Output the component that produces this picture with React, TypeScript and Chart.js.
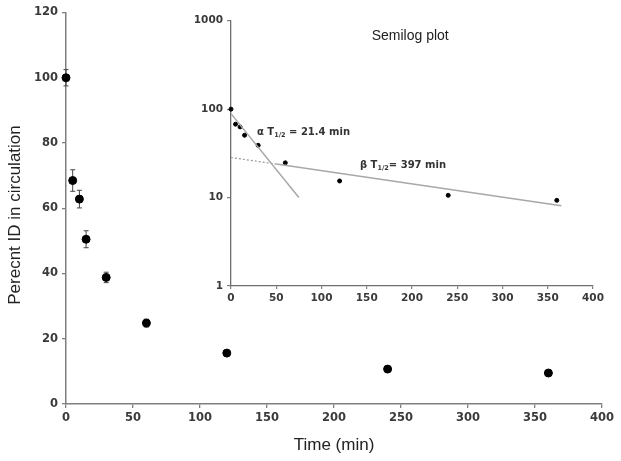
import React, { useEffect, useRef } from "react";
import { Chart, registerables } from "chart.js";
Chart.register(...registerables);

// ---- Main plot data ----
const timeMin = [0, 5, 10, 15, 30, 60, 120, 240, 360];
const percentID = [100, 68.5, 62.8, 50.5, 38.8, 24.8, 15.6, 10.7, 9.5];
const percentErr = [2.5, 3.3, 2.7, 2.6, 1.6, 1.2, 0.6, 0.5, 0.5];

// ---- Inset (semilog) data ----
const semilogValues = [100, 67.6, 63, 50.7, 39, 24.7, 15.4, 10.6, 9.3];
const alphaLineX = [0, 75];
const alphaLineY = [89, 10];
const betaDashX = [0, 50];
const betaDashY = [28.4, 23.9];
const betaSolidX = [50, 365];
const betaSolidY = [23.9, 8.1];
const insetYTicks = [1, 10, 100, 1000];

const yTitle = "Perecnt ID in circulation";
const xTitle = "Time (min)";
const insetTitle = "Semilog plot";
const alphaLabel = ["α T", "1/2", " = 21.4 min"];
const betaLabel = ["β T", "1/2", "= 397 min"];
const alphaLabelPos = [28.7, 54.5];
const betaLabelPos = [142.5, 23];
const insetTitlePos = [198, 666];

const toPts = (xs: number[], ys: number[]) => xs.map((x, i) => ({ x, y: ys[i] }));

const AXIS = "#7f7f7f";
const TICKC = "#3a3a3a";

export default function App() {
  const mainRef = useRef<HTMLCanvasElement>(null);
  const insetRef = useRef<HTMLCanvasElement>(null);

  useEffect(() => {
    const errorBars = {
      id: "errbars",
      beforeDatasetsDraw(chart: any) {
        const { ctx, scales } = chart;
        const x = scales.x, y = scales.y;
        ctx.save();
        ctx.strokeStyle = "#444";
        ctx.lineWidth = 1;
        timeMin.forEach((t, i) => {
          const px = x.getPixelForValue(t);
          const top = y.getPixelForValue(percentID[i] + percentErr[i]);
          const bot = y.getPixelForValue(percentID[i] - percentErr[i]);
          ctx.beginPath();
          ctx.moveTo(px, top); ctx.lineTo(px, bot);
          ctx.moveTo(px - 2.5, top); ctx.lineTo(px + 2.5, top);
          ctx.moveTo(px - 2.5, bot); ctx.lineTo(px + 2.5, bot);
          ctx.stroke();
        });
        ctx.restore();
      },
      afterDraw(chart: any) {
        const { ctx } = chart;
        ctx.save();
        ctx.translate(15, 215);
        ctx.rotate(-Math.PI / 2);
        ctx.font = "17px 'Liberation Sans', Arial, sans-serif";
        ctx.fillStyle = "#222";
        ctx.textAlign = "center";
        ctx.textBaseline = "middle";
        ctx.fillText(yTitle, 0, 0);
        ctx.restore();
      },
    };

    const main = new Chart(mainRef.current!, {
      type: "scatter",
      data: {
        datasets: [
          {
            data: toPts(timeMin, percentID),
            backgroundColor: "#000",
            borderColor: "#000",
            pointRadius: 4,
            clip: false as any,
          },
        ],
      },
      options: {
        animation: false,
        responsive: false,
        layout: { padding: { top: 12.5, right: 19, left: 0, bottom: 0 } },
        plugins: { legend: { display: false }, tooltip: { enabled: false } },
        scales: {
          x: {
            type: "linear",
            min: 0,
            max: 400,
            afterFit: (s: any) => { s.height = 57; },
            ticks: { stepSize: 50, padding: 3, color: TICKC, font: { family: "'DejaVu Sans'", weight: "bold", size: 11.5 } },
            grid: { drawOnChartArea: false, drawTicks: true, tickLength: 4, color: AXIS, lineWidth: 1.3 },
            border: { color: AXIS, width: 1.5 },
            title: { display: true, text: xTitle, color: "#222", padding: { top: 0, bottom: 5 }, font: { family: "'Liberation Sans'", size: 17 } },
          },
          y: {
            type: "linear",
            min: 0,
            max: 120,
            afterFit: (s: any) => { s.width = 66; },
            ticks: { stepSize: 20, padding: 4, color: TICKC, font: { family: "'DejaVu Sans'", weight: "bold", size: 11.5 } },
            grid: { drawOnChartArea: false, drawTicks: true, tickLength: 4, color: AXIS, lineWidth: 1.3 },
            border: { color: AXIS, width: 1.5 },
          },
        },
      },
      plugins: [errorBars],
    });

    const drawSub = (ctx: any, parts: string[], x: number, y: number) => {
      ctx.font = "bold 10px 'DejaVu Sans', sans-serif";
      ctx.fillText(parts[0], x, y);
      let cx = x + ctx.measureText(parts[0]).width;
      ctx.font = "bold 6.5px 'DejaVu Sans', sans-serif";
      ctx.fillText(parts[1], cx, y + 3);
      cx += ctx.measureText(parts[1]).width;
      ctx.font = "bold 10px 'DejaVu Sans', sans-serif";
      ctx.fillText(parts[2], cx, y);
    };

    const insetText = {
      id: "insettext",
      afterDraw(chart: any) {
        const { ctx, scales } = chart;
        const x = scales.x, y = scales.y;
        ctx.save();
        ctx.fillStyle = "#333";
        ctx.textBaseline = "middle";
        ctx.textAlign = "left";
        drawSub(ctx, alphaLabel, x.getPixelForValue(alphaLabelPos[0]), y.getPixelForValue(alphaLabelPos[1]));
        drawSub(ctx, betaLabel, x.getPixelForValue(betaLabelPos[0]), y.getPixelForValue(betaLabelPos[1]));
        ctx.font = "14px 'Liberation Sans', Arial, sans-serif";
        ctx.fillStyle = "#222";
        ctx.textAlign = "center";
        ctx.fillText(insetTitle, x.getPixelForValue(insetTitlePos[0]), y.getPixelForValue(insetTitlePos[1]));
        ctx.restore();
      },
    };

    const inset = new Chart(insetRef.current!, {
      type: "scatter",
      data: {
        datasets: [
          {
            data: toPts(alphaLineX, alphaLineY),
            showLine: true,
            pointRadius: 0,
            borderColor: "#a8a8a8",
            borderWidth: 1.5,
          },
          {
            data: toPts(betaDashX, betaDashY),
            showLine: true,
            pointRadius: 0,
            borderColor: "#9a9a9a",
            borderWidth: 1.2,
            borderDash: [2, 2],
          },
          {
            data: toPts(betaSolidX, betaSolidY),
            showLine: true,
            pointRadius: 0,
            borderColor: "#a8a8a8",
            borderWidth: 1.5,
          },
          {
            data: toPts(timeMin, semilogValues),
            backgroundColor: "#000",
            borderColor: "#000",
            pointRadius: 2,
            clip: false as any,
          },
        ],
      },
      options: {
        animation: false,
        responsive: false,
        layout: { padding: { top: 20.7, right: 17, left: 0, bottom: 0 } },
        plugins: { legend: { display: false }, tooltip: { enabled: false } },
        scales: {
          x: {
            type: "linear",
            min: 0,
            max: 400,
            afterFit: (s: any) => { s.height = 34; },
            ticks: { stepSize: 50, padding: 3, color: TICKC, font: { family: "'DejaVu Sans'", weight: "bold", size: 10.5 } },
            grid: { drawOnChartArea: false, drawTicks: true, tickLength: 3, color: AXIS, lineWidth: 1.2 },
            border: { color: "#6f6f6f", width: 1.3 },
          },
          y: {
            type: "logarithmic",
            min: 1,
            max: 1000,
            afterFit: (s: any) => { s.width = 41; },
            afterBuildTicks: (s: any) => { s.ticks = insetYTicks.map((v) => ({ value: v })); },
            ticks: {
              padding: 4,
              color: TICKC,
              font: { family: "'DejaVu Sans'", weight: "bold", size: 10.5 },
              callback: (v: any) => String(v),
            },
            grid: { drawOnChartArea: false, drawTicks: true, tickLength: 4, color: AXIS, lineWidth: 1.2 },
            border: { color: "#6f6f6f", width: 1.3 },
          },
        },
      },
      plugins: [insetText],
    });

    return () => {
      main.destroy();
      inset.destroy();
    };
  }, []);

  return (
    <div style={{ position: "fixed", left: 0, top: 0, width: 621, height: 461, background: "#fff" }}>
      <canvas ref={mainRef} width={621} height={461} style={{ position: "absolute", left: 0, top: 0, width: 621, height: 461 }} />
      <canvas ref={insetRef} width={420} height={320} style={{ position: "absolute", left: 190, top: 0, width: 420, height: 320 }} />
    </div>
  );
}
